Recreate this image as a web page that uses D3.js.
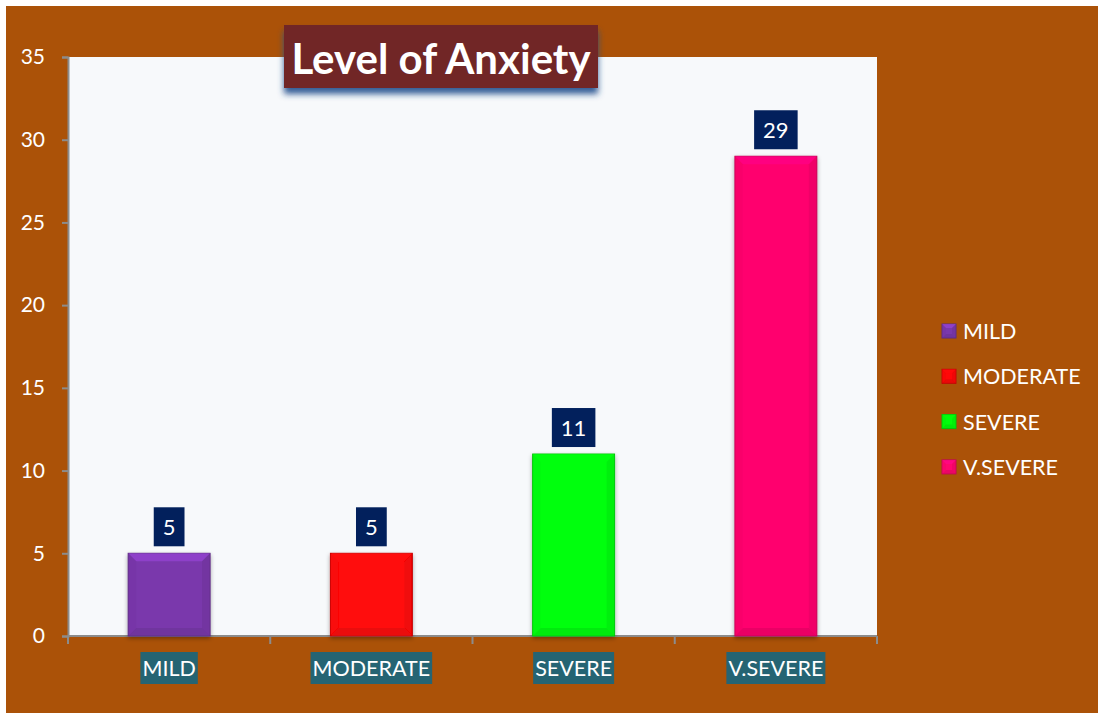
<!DOCTYPE html>
<html>
<head>
<meta charset="utf-8">
<script src="https://cdn.jsdelivr.net/npm/d3@7"></script>
<style>
  html, body { margin: 0; padding: 0; background: #ffffff; }
  svg { display: block; font-family: Lato, "Open Sans", sans-serif; }
</style>
</head>
<body>
<svg id="chart"></svg>
<script>
const categories = ["MILD", "MODERATE", "SEVERE", "V.SEVERE"];
const values = [5, 5, 11, 29];
const barColors = ["#7a38ac", "#ff0808", "#00ff0a", "#ff066e"];
const yTicks = [0, 5, 10, 15, 20, 25, 30, 35];

const w = 1098, h = 713;
const plot = { left: 68, right: 877, top: 57, bottom: 636 };

const svg = d3.select("#chart").attr("width", w).attr("height", h);

const defs = svg.append("defs");
const shadow = defs.append("filter").attr("id", "titleShadow")
  .attr("x", "-10%").attr("y", "-10%").attr("width", "120%").attr("height", "150%");
shadow.append("feDropShadow").attr("dx", 0).attr("dy", 6).attr("stdDeviation", 3)
  .attr("flood-color", "#1f4e8c").attr("flood-opacity", 0.9);

const barShadow = defs.append("filter").attr("id", "barShadow")
  .attr("x", "-20%").attr("y", "-5%").attr("width", "140%").attr("height", "115%");
barShadow.append("feDropShadow").attr("dx", 0).attr("dy", 2).attr("stdDeviation", 2)
  .attr("flood-color", "#000").attr("flood-opacity", 0.35);

// background
svg.append("rect").attr("x", 6).attr("y", 6).attr("width", w - 6).attr("height", h - 6)
  .attr("fill", "#ab5208");

svg.append("rect")
  .attr("x", plot.left).attr("y", plot.top)
  .attr("width", plot.right - plot.left).attr("height", plot.bottom - plot.top)
  .attr("fill", "#f7f9fb");

const x = d3.scaleBand().domain(categories).range([plot.left, plot.right]).padding(0);
const y = d3.scaleLinear().domain([0, 35]).range([plot.bottom, plot.top]);
const barW = x.bandwidth() * 0.405;

// y axis
const yAxis = svg.append("g").attr("transform", `translate(${plot.left},0)`)
  .call(d3.axisLeft(y).tickValues(yTicks).tickSize(6).tickPadding(17));
yAxis.select(".domain").attr("stroke", "#8c8c8c").attr("stroke-width", 2);
yAxis.selectAll(".tick line").attr("stroke", "#8c8c8c").attr("stroke-width", 2);
yAxis.selectAll(".tick text").attr("fill", "#ffffff").attr("font-size", 21)
  .attr("font-family", "Lato, sans-serif");

// x axis line and ticks
const xAxis = svg.append("g");
xAxis.append("line").attr("x1", plot.left).attr("x2", plot.right)
  .attr("y1", plot.bottom).attr("y2", plot.bottom)
  .attr("stroke", "#8c8c8c").attr("stroke-width", 2);
xAxis.selectAll("line.xt")
  .data(categories.map(c => x(c)).concat([plot.right]))
  .join("line").attr("class", "xt")
  .attr("x1", d => d).attr("x2", d => d)
  .attr("y1", plot.bottom).attr("y2", plot.bottom + 8)
  .attr("stroke", "#8c8c8c").attr("stroke-width", 2);

// bars with bevel
const bars = svg.append("g").selectAll("g.bar")
  .data(categories.map((c, i) => ({ c, v: values[i], col: barColors[i] })))
  .join("g").attr("class", "bar");

function drawBevel(g, x0, y0, bw, bh, col, bev) {
  const c = d3.color(col);
  g.append("rect").attr("x", x0).attr("y", y0).attr("width", bw).attr("height", bh)
    .attr("fill", col).attr("stroke", c.darker(0.8)).attr("stroke-width", 1);
  const x1 = x0 + bw, y1 = y0 + bh;
  // top light
  g.append("polygon")
    .attr("points", [[x0, y0], [x1, y0], [x1 - bev, y0 + bev], [x0 + bev, y0 + bev]].join(" "))
    .attr("fill", c.brighter(0.6)).attr("opacity", 0.7);
  // bottom dark
  g.append("polygon")
    .attr("points", [[x0, y1], [x1, y1], [x1 - bev, y1 - bev], [x0 + bev, y1 - bev]].join(" "))
    .attr("fill", c.darker(0.5)).attr("opacity", 0.5);
  // sides
  g.append("polygon")
    .attr("points", [[x0, y0], [x0 + bev, y0 + bev], [x0 + bev, y1 - bev], [x0, y1]].join(" "))
    .attr("fill", c.darker(0.2)).attr("opacity", 0.35);
  g.append("polygon")
    .attr("points", [[x1, y0], [x1 - bev, y0 + bev], [x1 - bev, y1 - bev], [x1, y1]].join(" "))
    .attr("fill", c.darker(0.4)).attr("opacity", 0.45);
}

bars.each(function (d) {
  const g = d3.select(this).attr("filter", "url(#barShadow)");
  const cx = x(d.c) + x.bandwidth() / 2;
  drawBevel(g, cx - barW / 2, y(d.v), barW, y(0) - y(d.v), d.col, 8);
});

// data labels
const labels = svg.append("g").selectAll("g.lab")
  .data(categories.map((c, i) => ({ c, v: values[i] })))
  .join("g").attr("class", "lab");
labels.each(function (d) {
  const g = d3.select(this);
  const cx = x(d.c) + x.bandwidth() / 2;
  const t = g.append("text").attr("x", cx).attr("y", y(d.v) - 27)
    .attr("text-anchor", "middle").attr("fill", "#ffffff")
    .attr("font-size", 22).attr("dominant-baseline", "central").text(d.v);
  const bb = t.node().getBBox();
  g.insert("rect", "text")
    .attr("x", bb.x - 9).attr("y", y(d.v) - 46)
    .attr("width", bb.width + 18).attr("height", 39)
    .attr("fill", "#02205c");
});

// category labels
const cats = svg.append("g").selectAll("g.cat").data(categories).join("g").attr("class", "cat");
cats.each(function (c) {
  const g = d3.select(this);
  const cx = x(c) + x.bandwidth() / 2;
  const t = g.append("text").attr("x", cx).attr("y", 668)
    .attr("text-anchor", "middle").attr("dominant-baseline", "central")
    .attr("fill", "#ffffff").attr("font-size", 21.5).text(c);
  const bb = t.node().getBBox();
  g.insert("rect", "text")
    .attr("x", bb.x - 2).attr("y", 652)
    .attr("width", bb.width + 4).attr("height", 32)
    .attr("fill", "#256473");
});

// legend
const legend = svg.append("g").attr("transform", "translate(942,331)");
const li = legend.selectAll("g").data(categories).join("g")
  .attr("transform", (d, i) => `translate(0,${i * 45.3})`);
li.each(function (c, i) {
  drawBevel(d3.select(this), 0, -7, 14, 14, barColors[i], 4);
});
li.append("text").attr("x", 21).attr("y", 0).attr("dominant-baseline", "central")
  .attr("fill", "#ffffff").attr("font-size", 21.5).text(d => d);

// title
const title = svg.append("g");
title.append("rect").attr("x", 284).attr("y", 25).attr("width", 314).attr("height", 63)
  .attr("fill", "#712828").attr("filter", "url(#titleShadow)");
title.append("text").attr("x", 441).attr("y", 58)
  .attr("text-anchor", "middle").attr("dominant-baseline", "central")
  .attr("fill", "#ffffff").attr("font-size", 42).attr("font-weight", "bold")
  .text("Level of Anxiety");
</script>
</body>
</html>
